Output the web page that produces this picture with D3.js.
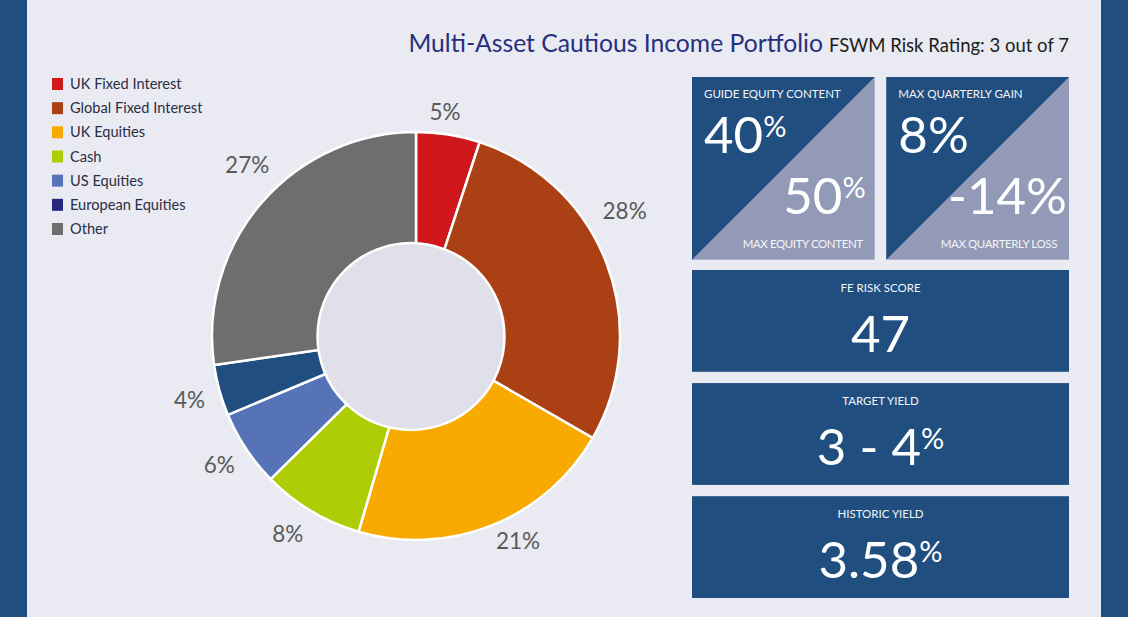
<!DOCTYPE html>
<html>
<head>
<meta charset="utf-8">
<script src="https://cdnjs.cloudflare.com/ajax/libs/d3/7.8.5/d3.min.js"></script>
<style>
html, body { margin: 0; padding: 0; background: #e9eaf2; overflow: hidden; }
text { font-family: Lato, "Open Sans", sans-serif; }
</style>
</head>
<body>
<div id="chart"></div>
<script>
// data
var categories = ["UK Fixed Interest", "Global Fixed Interest", "UK Equities", "Cash", "US Equities", "European Equities", "Other"];
var shares = [5, 28, 21, 8, 6, 4, 27];
var sliceColours = ["#cf171c", "#ab4014", "#f9aa00", "#aecd05", "#5673b8", "#1f4e7f", "#6e6e6e"];
var legendColours = ["#cf171c", "#ab4014", "#f9aa00", "#aecd05", "#5673b8", "#26287f", "#6e6e6e"];

var splitLabels = ["GUIDE EQUITY CONTENT", "MAX QUARTERLY GAIN"];
var splitTop = ["40", "8"];
var splitTopSup = [true, false];
var splitBottom = ["50", "-14"];
var splitBottomSup = [true, false];
var splitBottomLabels = ["MAX EQUITY CONTENT", "MAX QUARTERLY LOSS"];

var rowLabels = ["FE RISK SCORE", "TARGET YIELD", "HISTORIC YIELD"];
var rowValues = ["47", "3 - 4", "3.58"];
var rowUnits = ["", "%", "%"];

var width = 1128, height = 617;
var navy = "#1f4e7f", pale = "#929ab7";
var bigSize = 51, supSize = 29, supRise = -16;

var svg = d3.select("#chart").append("svg").attr("width", width).attr("height", height).style("display", "block");

svg.append("rect").attr("width", width).attr("height", height).attr("fill", "#e9eaf2");
svg.append("rect").attr("width", 27).attr("height", height).attr("fill", navy);
svg.append("rect").attr("x", 1101).attr("width", 27).attr("height", height).attr("fill", navy);

// title
var title = svg.append("text").attr("x", 1069).attr("y", 52).attr("text-anchor", "end");
title.append("tspan").attr("font-size", 24.7).attr("fill", "#26307f").text("Multi-Asset Cautious Income Portfolio");
title.append("tspan").attr("font-size", 18.5).attr("fill", "#1c1c1c").attr("dx", 6).text("FSWM Risk Rating: 3 out of 7");

// legend
var legendY = d3.scalePoint().domain(categories).range([84, 229]);
var legend = svg.append("g").selectAll("g").data(categories).enter().append("g")
    .attr("transform", function(d) { return "translate(52," + legendY(d) + ")"; });
legend.append("rect").attr("x", 0).attr("y", -6).attr("width", 11).attr("height", 12)
    .attr("fill", function(d, i) { return legendColours[i]; });
legend.append("text").attr("x", 18).attr("y", 5).attr("font-size", 14.6).attr("fill", "#2a2f45")
    .text(function(d) { return d; });

// donut, the hole is a separate circle sitting a bit left of the pie centre
var pie = d3.pie().sort(null).value(function(d) { return d; });
var arc = d3.arc().innerRadius(0).outerRadius(204);
var labelArc = d3.arc().innerRadius(234).outerRadius(234);
var slices = pie(shares);
// small hand nudges so the labels sit where the original put them
var labelNudge = [[-8, 7], [-10, -41], [15, -12], [-8, -3], [-2, 0], [-1, 2], [8, -18]];

var donut = svg.append("g").attr("transform", "translate(416,336)");
donut.selectAll("path").data(slices).enter().append("path")
    .attr("d", arc)
    .attr("fill", function(d, i) { return sliceColours[i]; })
    .attr("stroke", "#ffffff").attr("stroke-width", 2.5);
donut.append("circle").attr("cx", -5).attr("cy", 0.5).attr("r", 93.5)
    .attr("fill", "#dfe0ea").attr("stroke", "#ffffff").attr("stroke-width", 2.5);
donut.selectAll("text").data(slices).enter().append("text")
    .attr("transform", function(d, i) {
        var c = labelArc.centroid(d);
        return "translate(" + (c[0] + labelNudge[i][0]) + "," + (c[1] + labelNudge[i][1]) + ")";
    })
    .attr("text-anchor", "middle").attr("dy", "0.35em")
    .attr("font-size", 22.5).attr("fill", "#5a5a5a")
    .text(function(d) { return d.data + "%"; });

function bigNumber(g, x, y, anchor, value) {
    var t = g.append("text").attr("x", x).attr("y", y).attr("text-anchor", anchor)
        .attr("font-size", bigSize).attr("fill", "#ffffff");
    t.append("tspan").text(value);
    return t;
}

// split tiles
var splitX = d3.scaleBand().domain(splitLabels).range([692, 1069]).paddingInner(0.06);
var size = splitX.bandwidth();
splitLabels.forEach(function(label, i) {
    var g = svg.append("g").attr("transform", "translate(" + splitX(label) + ",77)");
    g.append("rect").attr("width", size).attr("height", size).attr("fill", pale);
    g.append("path").attr("d", "M0,0H" + size + "L0," + size + "Z").attr("fill", navy);
    g.append("text").attr("x", 12).attr("y", 21).attr("font-size", 11.5).attr("fill", "#f4f5f9").text(label);

    var top = bigNumber(g, 12, 76, "start", splitTop[i]);
    top.append("tspan").attr("font-size", splitTopSup[i] ? supSize : bigSize).attr("dy", splitTopSup[i] ? supRise : 0).text("%");

    var bottom = bigNumber(g, size - (i ? 2 : 9), 137, "end", splitBottom[i]);
    bottom.append("tspan").attr("font-size", splitBottomSup[i] ? supSize : bigSize).attr("dy", splitBottomSup[i] ? supRise : 0).text("%");

    g.append("text").attr("x", size - 12).attr("y", 171).attr("text-anchor", "end")
        .attr("font-size", 11.5).attr("letter-spacing", -0.4).attr("fill", "#f4f5f9").text(splitBottomLabels[i]);
});

// full width tiles
var rowY = d3.scaleBand().domain(rowLabels).range([270, 598]).paddingInner(0.1);
rowLabels.forEach(function(label, i) {
    var g = svg.append("g").attr("transform", "translate(692," + rowY(label) + ")");
    g.append("rect").attr("width", 377).attr("height", rowY.bandwidth()).attr("fill", navy);
    g.append("text").attr("x", 188.5).attr("y", 22).attr("text-anchor", "middle")
        .attr("font-size", 11.5).attr("fill", "#f4f5f9").text(label);
    var v = bigNumber(g, 188.5, 82, "middle", rowValues[i]);
    if (rowUnits[i]) v.append("tspan").attr("font-size", supSize).attr("dy", supRise).text(rowUnits[i]);
});
</script>
</body>
</html>
